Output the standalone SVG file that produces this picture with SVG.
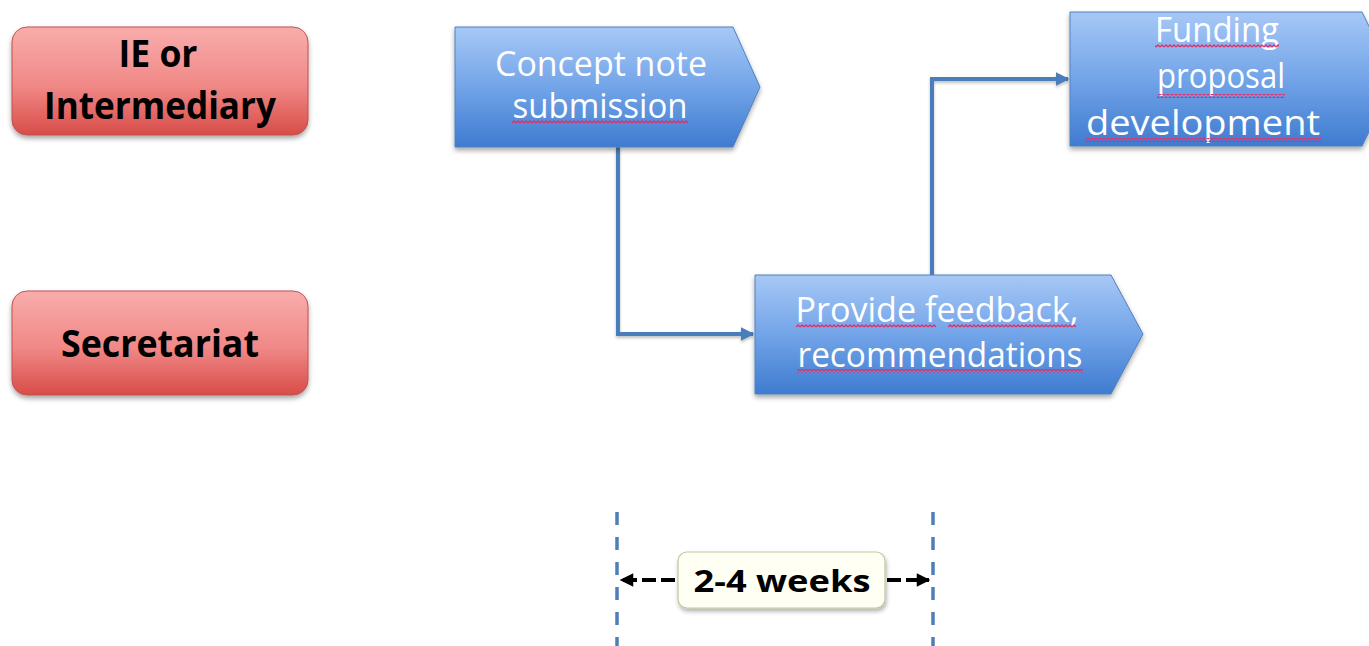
<svg xmlns="http://www.w3.org/2000/svg" width="1369" height="646" viewBox="0 0 1369 646">
<style>
.red{fill:url(#gRed);stroke:#c0504d;stroke-width:1;filter:url(#sh)}
.blue{fill:url(#gBlue);stroke:#4f81bd;stroke-width:1;filter:url(#sh)}
.bt{font-family:"Open Sans","Liberation Sans",sans-serif;font-weight:700;font-size:37px;fill:#000;text-anchor:middle}
.wt{font-family:"Open Sans","Liberation Sans",sans-serif;font-size:34px;fill:#fff;text-anchor:middle}
.conn{fill:none;stroke:#4a7ebb;stroke-width:4;filter:url(#sh2)}
.wavy{fill:url(#wv)}
.vdash{stroke:#4f7eb8;stroke-width:3.5;stroke-dasharray:13 12;fill:none}
.hdash{stroke:#000;stroke-width:4;stroke-dasharray:14 5;fill:none}
</style>
<defs>
<linearGradient id="gRed" x1="0" y1="0" x2="0" y2="1">
<stop offset="0" stop-color="#f8adac"/>
<stop offset="0.55" stop-color="#f08886"/>
<stop offset="1" stop-color="#d84c48"/>
</linearGradient>
<linearGradient id="gBlue" x1="0" y1="0" x2="0" y2="1">
<stop offset="0" stop-color="#a7c8f6"/>
<stop offset="0.5" stop-color="#72a4e8"/>
<stop offset="1" stop-color="#3f7bd0"/>
</linearGradient>
<filter id="sh" x="-10%" y="-10%" width="120%" height="130%">
<feDropShadow dx="0" dy="3" stdDeviation="2.5" flood-color="#000" flood-opacity="0.35"/>
</filter>
<filter id="sh2" x="-10%" y="-10%" width="120%" height="130%">
<feDropShadow dx="0" dy="2" stdDeviation="1.5" flood-color="#000" flood-opacity="0.25"/>
</filter>
<filter id="sh3" x="-10%" y="-10%" width="120%" height="140%">
<feDropShadow dx="1" dy="3" stdDeviation="2" flood-color="#000" flood-opacity="0.3"/>
</filter>
<pattern id="wv" width="4" height="4" patternUnits="userSpaceOnUse">
<path d="M0,3 L2,1 L4,3" fill="none" stroke="#e0306a" stroke-width="1.3"/>
</pattern>
<marker id="ab" viewBox="0 0 10 10" refX="9" refY="5" markerWidth="3.4" markerHeight="3.4" orient="auto" markerUnits="strokeWidth">
<path d="M0,0 L10,5 L0,10 Z" fill="#4a7ebb"/>
</marker>
<marker id="ak" viewBox="0 0 10 10" refX="9" refY="5" markerWidth="3.6" markerHeight="3.4" orient="auto" markerUnits="strokeWidth">
<path d="M0,0 L10,5 L0,10 Z" fill="#000"/>
</marker>
</defs>

<g id="connectors">
<path class="conn" d="M618,147 V334 H753" marker-end="url(#ab)"/>
<path class="conn" d="M932,275 V79 H1068" marker-end="url(#ab)"/>
</g>

<g id="ie">
<rect class="red" x="12" y="27" width="296" height="108" rx="15"/>
<text class="bt" x="158" y="67" textLength="79" lengthAdjust="spacingAndGlyphs">IE or</text>
<text class="bt" x="160" y="119" textLength="232" lengthAdjust="spacingAndGlyphs">Intermediary</text>
</g>

<g id="secretariat">
<rect class="red" x="12" y="291" width="296" height="104" rx="15"/>
<text class="bt" x="160" y="357" textLength="198" lengthAdjust="spacingAndGlyphs">Secretariat</text>
</g>

<g id="concept">
<path class="blue" d="M455,27 H733 L760,87 L733,147 H455 Z"/>
<text class="wt" x="601" y="76" textLength="212" lengthAdjust="spacingAndGlyphs">Concept note</text>
<text class="wt" x="600" y="118" textLength="175" lengthAdjust="spacingAndGlyphs">submission</text>
<rect class="wavy" x="512" y="120" width="176" height="4"/>
</g>

<g id="feedback">
<path class="blue" d="M755,275 H1111 L1143,334 L1111,394 H755 Z"/>
<text class="wt" x="937" y="322" textLength="283" lengthAdjust="spacingAndGlyphs">Provide feedback,</text>
<text class="wt" x="940" y="367" textLength="285" lengthAdjust="spacingAndGlyphs">recommendations</text>
<rect class="wavy" x="796" y="324" width="140" height="4"/>
<rect class="wavy" x="948" y="324" width="128" height="4"/>
<rect class="wavy" x="797" y="369" width="286" height="4"/>
</g>

<g id="funding">
<path class="blue" d="M1070,12 H1362 L1395,79 L1362,146 H1070 Z"/>
<text class="wt" x="1217" y="42" textLength="124" lengthAdjust="spacingAndGlyphs">Funding</text>
<text class="wt" x="1221" y="88" textLength="128" lengthAdjust="spacingAndGlyphs">proposal</text>
<text class="wt" x="1203" y="135" textLength="234" lengthAdjust="spacingAndGlyphs">development</text>
<rect class="wavy" x="1155" y="44" width="124" height="4"/>
<rect class="wavy" x="1157" y="94" width="128" height="4"/>
<rect class="wavy" x="1085" y="138" width="236" height="4"/>
</g>

<g id="timespan">
<path class="vdash" d="M617,512 V646"/>
<path class="vdash" d="M933,512 V646"/>
<path class="hdash" d="M675,580 H621" marker-end="url(#ak)"/>
<path class="hdash" d="M887,580 H929" marker-end="url(#ak)"/>
<rect x="678" y="552" width="207" height="56" rx="9" fill="#fffff4" stroke="#bfc79a" stroke-width="1.2" filter="url(#sh3)"/>
<text class="bt" x="782" y="592" style="font-size:31px" textLength="177" lengthAdjust="spacingAndGlyphs">2-4 weeks</text>
</g>
</svg>
